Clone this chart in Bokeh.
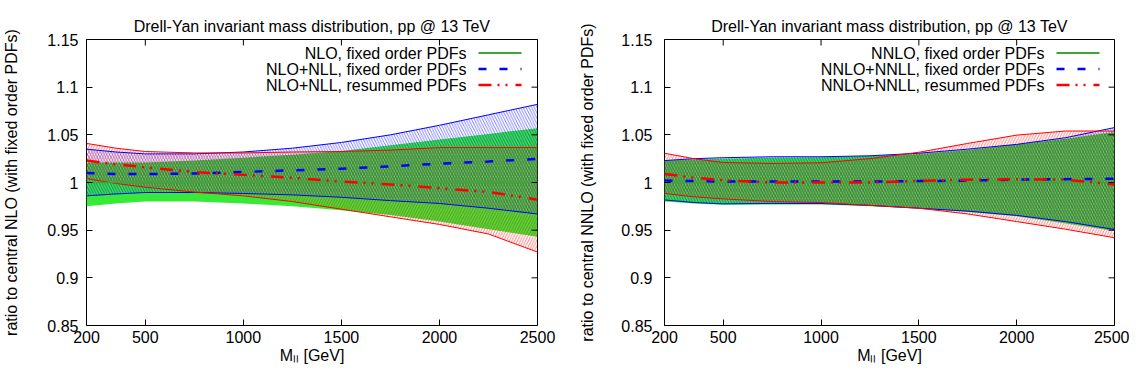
from bokeh.plotting import figure
from bokeh.layouts import row
from bokeh.models import FixedTicker, Label, Arrow, Range1d
from bokeh.embed import file_html
from bokeh.resources import INLINE

# ---------------- data ----------------
mass = [200, 350, 500, 750, 1000, 1250, 1500, 1750, 2000, 2250, 2500]

# left panel: NLO
nlo_fo_hi   = [1.021, 1.021, 1.021, 1.023, 1.026, 1.029, 1.033, 1.039, 1.045, 1.051, 1.057]
nlo_fo_lo   = [0.975, 0.978, 0.980, 0.980, 0.978, 0.975, 0.971, 0.966, 0.959, 0.951, 0.943]
nlo_fo_c    = [1.000, 1.000, 1.000, 1.000, 1.000, 1.000, 1.000, 1.000, 1.000, 1.000, 1.000]
nlonll_fo_hi = [1.035, 1.032, 1.030, 1.030, 1.032, 1.036, 1.042, 1.050, 1.060, 1.071, 1.082]
nlonll_fo_lo = [0.986, 0.988, 0.9895, 0.9895, 0.9885, 0.987, 0.9845, 0.981, 0.978, 0.973, 0.967]
nlonll_fo_c  = [1.010, 1.009, 1.0088, 1.0095, 1.011, 1.0128, 1.0145, 1.017, 1.0197, 1.022, 1.0248]
nlonll_rs_hi = [1.041, 1.036, 1.0325, 1.031, 1.031, 1.032, 1.0325, 1.034, 1.0366, 1.0366, 1.0366]
nlonll_rs_lo = [1.004, 0.999, 0.995, 0.990, 0.986, 0.980, 0.972, 0.964, 0.956, 0.946, 0.927]
nlonll_rs_c  = [1.023, 1.019, 1.016, 1.011, 1.008, 1.005, 1.001, 0.998, 0.994, 0.990, 0.982]

# right panel: NNLO
nnlo_fo_hi   = [1.023, 1.024, 1.025, 1.026, 1.0265, 1.028, 1.030, 1.034, 1.040, 1.046, 1.053]
nnlo_fo_lo   = [0.980, 0.978, 0.9766, 0.977, 0.977, 0.975, 0.973, 0.969, 0.9645, 0.957, 0.949]
nnlo_fo_c    = [1.000, 1.000, 1.000, 1.000, 1.000, 1.000, 1.000, 1.000, 1.000, 1.000, 1.000]
nnlonnll_fo_hi = [1.023, 1.025, 1.026, 1.027, 1.027, 1.028, 1.0307, 1.035, 1.040, 1.047, 1.0576]
nnlonnll_fo_lo = [0.9817, 0.979, 0.9776, 0.978, 0.978, 0.976, 0.973, 0.970, 0.9655, 0.959, 0.9507]
nnlonnll_fo_c  = [1.002, 1.0015, 1.001, 1.001, 1.001, 1.001, 1.0015, 1.002, 1.003, 1.0035, 1.004]
nnlonnll_rs_hi = [1.0307, 1.025, 1.021, 1.020, 1.0207, 1.025, 1.0317, 1.041, 1.0497, 1.054, 1.054]
nnlonnll_rs_lo = [0.9886, 0.985, 0.9828, 0.980, 0.979, 0.976, 0.973, 0.967, 0.959, 0.951, 0.942]
nnlonnll_rs_c  = [1.009, 1.005, 1.0024, 1.000, 1.000, 1.000, 1.0017, 1.003, 1.0034, 1.003, 0.998]

x_ticks = [200, 500, 1000, 1500, 2000, 2500]
y_ticks = [0.85, 0.9, 0.95, 1.0, 1.05, 1.1, 1.15]
y_tick_labels = ["0.85", "0.9", "0.95", "1", "1.05", "1.1", "1.15"]

title_text = "Drell-Yan invariant mass distribution, pp @ 13 TeV"
x_label = "M\u2097\u2097 [GeV]"

left_legend = ["NLO, fixed order PDFs", "NLO+NLL, fixed order PDFs", "NLO+NLL, resummed PDFs"]
right_legend = ["NNLO, fixed order PDFs", "NNLO+NNLL, fixed order PDFs", "NNLO+NNLL, resummed PDFs"]

FONT = "Liberation Sans"
GREEN_FILL = "#38ea38"
GREEN_LINE = "#3aa832"
BLUE = "#0000ff"
RED = "#ff0000"

X0, X1 = 200, 2500
Y0, Y1 = 0.85, 1.15
FRAME_W, FRAME_H = 453, 286
TICK = 6
FIG_H = 367


def make_panel(width, bl, br, ylabel, legend, fo_hi, fo_lo, fo_c, b_hi, b_lo, b_c, r_hi, r_lo, r_c,
               tick_standoff, label_standoff):
    p = figure(width=width, height=FIG_H, output_backend="svg", toolbar_location=None,
               x_range=Range1d(X0, X1), y_range=Range1d(Y0, Y1),
               min_border_left=bl, min_border_right=br, min_border_top=39,
               min_border_bottom=FIG_H - 39 - FRAME_H)
    p.xgrid.visible = False
    p.ygrid.visible = False
    p.outline_line_color = "black"
    p.outline_line_width = 1
    p.background_fill_color = "white"
    p.border_fill_color = "white"

    p.title.text = title_text
    p.title.text_font = FONT
    p.title.text_font_size = "16px"
    p.title.text_font_style = "normal"
    p.title.align = "center"
    p.title.text_color = "black"

    # bands
    p.varea(x=mass, y1=fo_lo, y2=fo_hi, fill_color=GREEN_FILL, fill_alpha=1.0)
    p.varea(x=mass, y1=b_lo, y2=b_hi, fill_color=None, fill_alpha=0,
            hatch_pattern="\\", hatch_color=BLUE, hatch_scale=5.5, hatch_weight=0.5)
    p.varea(x=mass, y1=r_lo, y2=r_hi, fill_color=None, fill_alpha=0,
            hatch_pattern="/", hatch_color=RED, hatch_scale=5.5, hatch_weight=0.5)
    for arr in (b_hi, b_lo):
        p.line(mass, arr, line_color=BLUE, line_width=1)
    for arr in (r_hi, r_lo):
        p.line(mass, arr, line_color=RED, line_width=1)
    # central lines
    p.line(mass, fo_c, line_color=GREEN_LINE, line_width=1.5)
    p.line(mass, b_c, line_color=BLUE, line_width=2.5, line_dash="8 13")
    p.line(mass, r_c, line_color=RED, line_width=2.5, line_dash="13 6 2 6 2 8")

    # axes
    xa = p.xaxis[0]
    ya = p.yaxis[0]
    for ax in (xa, ya):
        ax.major_tick_in = TICK
        ax.major_tick_out = 0
        ax.minor_tick_line_color = None
        ax.axis_line_color = None
        ax.major_label_text_font = FONT
        ax.major_label_text_font_size = "16px"
        ax.major_label_text_color = "black"
        ax.axis_label_text_font = FONT
        ax.axis_label_text_font_size = "16px"
        ax.axis_label_text_font_style = "normal"
        ax.axis_label_text_color = "black"
    xa.ticker = FixedTicker(ticks=x_ticks)
    ya.ticker = FixedTicker(ticks=y_ticks)
    ya.major_label_overrides = {t: s for t, s in zip(y_ticks, y_tick_labels)}
    xa.axis_label = x_label
    ya.axis_label = ylabel
    xa.major_label_standoff = 5
    xa.axis_label_standoff = 1
    ya.major_label_standoff = tick_standoff
    ya.axis_label_standoff = label_standoff

    # mirrored ticks on top and right edges (gnuplot style)
    dy = TICK * (Y1 - Y0) / FRAME_H
    dx = TICK * (X1 - X0) / FRAME_W
    p.segment(x0=x_ticks, x1=x_ticks, y0=[Y1] * len(x_ticks), y1=[Y1 - dy] * len(x_ticks),
              line_color="black", line_width=1)
    p.segment(x0=[X1] * len(y_ticks), x1=[X1 - dx] * len(y_ticks), y0=y_ticks, y1=y_ticks,
              line_color="black", line_width=1)

    # legend (gnuplot style: text then sample)
    styles = [dict(line_color=GREEN_LINE, line_width=2),
              dict(line_color=BLUE, line_width=2.5, line_dash="8 13"),
              dict(line_color=RED, line_width=2.5, line_dash="13 6 2 6 2 8")]
    for i, (txt, st) in enumerate(zip(legend, styles)):
        yy = FRAME_H - 13.5 - 16 * i
        p.add_layout(Label(x=380, y=yy, x_units="screen", y_units="screen", text=txt,
                           text_align="right", text_baseline="middle",
                           text_font=FONT, text_font_size="16px", text_color="black"))
        p.add_layout(Arrow(end=None, x_start=392, y_start=yy, x_end=435, y_end=yy,
                           start_units="screen", end_units="screen", **st))
    return p


p1 = make_panel(576, 84, 39, "ratio to central NLO (with fixed order PDFs)", left_legend,
                nlo_fo_hi, nlo_fo_lo, nlo_fo_c, nlonll_fo_hi, nlonll_fo_lo, nlonll_fo_c,
                nlonll_rs_hi, nlonll_rs_lo, nlonll_rs_c, 8, 24)
p2 = make_panel(553, 85, 15, "ratio to central NNLO (with fixed order PDFs)", right_legend,
                nnlo_fo_hi, nnlo_fo_lo, nnlo_fo_c, nnlonnll_fo_hi, nnlonnll_fo_lo, nnlonnll_fo_c,
                nnlonnll_rs_hi, nnlonnll_rs_lo, nnlonnll_rs_c, 12, 22)

layout = row(p1, p2)
open("out.html", "w").write(file_html(layout, INLINE))
